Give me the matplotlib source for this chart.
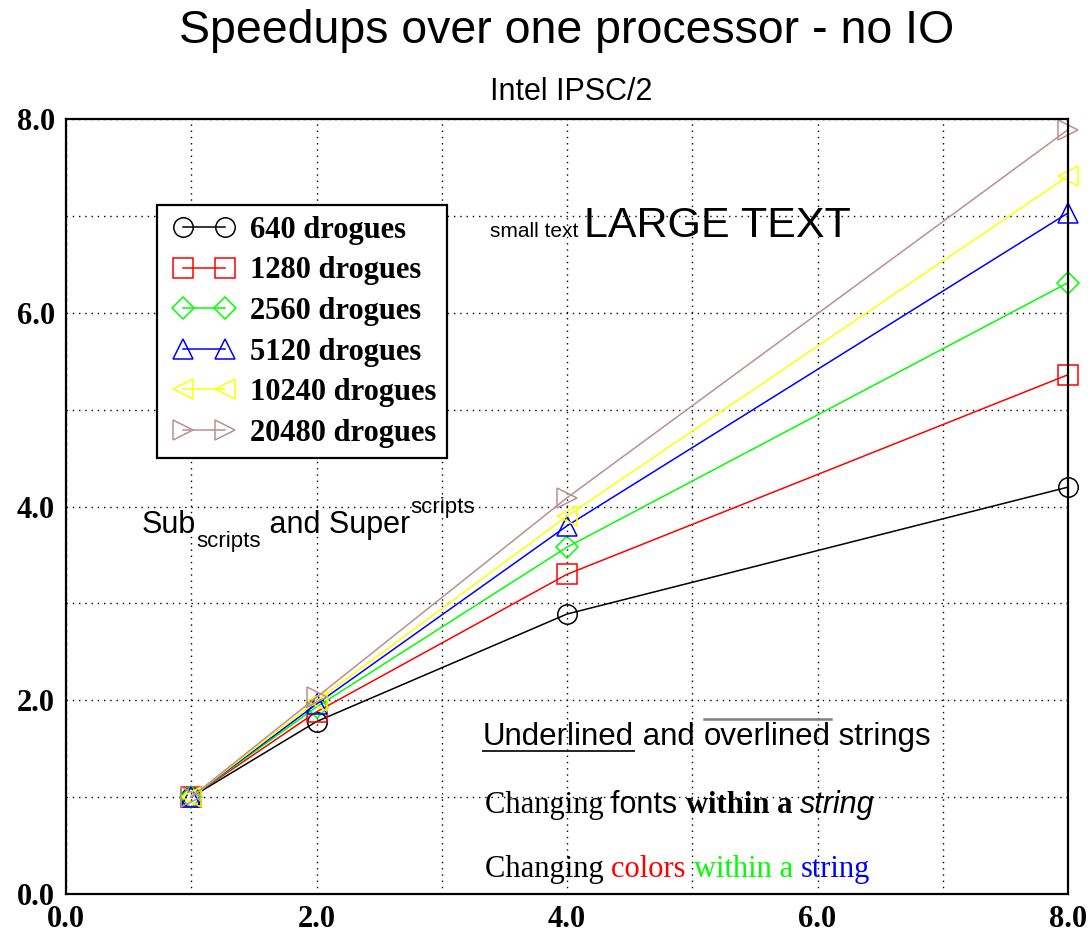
import numpy as np
import matplotlib
matplotlib.use("Agg")
from matplotlib import pyplot as plt
from matplotlib.lines import Line2D
from matplotlib.legend_handler import HandlerLine2D

# processors on the x axis, speedup for each problem size
processors = [1, 2, 4, 8]
speedup_640 = [1.0, 1.78, 2.89, 4.20]
speedup_1280 = [1.0, 1.88, 3.30, 5.36]
speedup_2560 = [1.0, 1.93, 3.58, 6.31]
speedup_5120 = [1.0, 1.96, 3.80, 7.03]
speedup_10240 = [1.0, 1.99, 3.90, 7.41]
speedup_20480 = [1.0, 2.03, 4.09, 7.89]
labels = ["640 drogues", "1280 drogues", "2560 drogues",
          "5120 drogues", "10240 drogues", "20480 drogues"]
tick_values = [0, 2, 4, 6, 8]
tick_labels = ["0.0", "2.0", "4.0", "6.0", "8.0"]

series = [speedup_640, speedup_1280, speedup_2560, speedup_5120, speedup_10240, speedup_20480]
colors = ["black", "#ff0000", "#00ff00", "#0000ff", "#ffff00", "#bc8f8f"]
markers = ["o", "s", "D", "^", "<", ">"]
msizes = [14, 14, 11.5, 14, 14, 14]

SANS = "Liberation Sans"
SERIF = "Liberation Serif"
W, H = 1092, 932

fig = plt.figure(figsize=(W / 100, H / 100), dpi=100)
ax = fig.add_axes([66 / W, 1 - 894 / H, (1068 - 66) / W, (894 - 119) / H])

for ys, c, m, ms, lab in zip(series, colors, markers, msizes, labels):
    ax.plot(processors, ys, color=c, marker=m, markersize=ms, markerfacecolor="none",
            markeredgewidth=1.1, linewidth=1.1, label=lab, zorder=3, clip_on=False)

ax.set_xlim(0, 8)
ax.set_ylim(0, 8)
ax.set_xticks(tick_values)
ax.set_xticklabels(tick_labels)
ax.set_yticks(tick_values)
ax.set_yticklabels(tick_labels)
ax.set_xticks(range(0, 9), minor=True)
ax.set_yticks(range(0, 9), minor=True)
ax.tick_params(which="both", length=0)
ax.tick_params(axis="y", pad=8)
ax.tick_params(axis="x", pad=8)
for lbl in ax.get_xticklabels() + ax.get_yticklabels():
    lbl.set_fontfamily(SERIF)
    lbl.set_fontweight("bold")
    lbl.set_fontsize(22)
ax.grid(which="both", color="black", linestyle=(0, (1, 3.5)), linewidth=1.0)
for sp in ax.spines.values():
    sp.set_linewidth(1.6)
    sp.set_zorder(4)

leg = ax.legend(loc="upper left", bbox_to_anchor=(157 / W, 1 - 205 / H),
                bbox_transform=fig.transFigure, borderaxespad=0,
                prop={"family": SERIF, "weight": "bold", "size": 22},
                numpoints=2, handlelength=2.38, handletextpad=0.31,
                labelspacing=0.38, borderpad=0.35, fancybox=False,
                edgecolor="black", framealpha=1,
                handler_map={Line2D: HandlerLine2D(marker_pad=0.5)})
leg.get_frame().set_linewidth(1.6)
leg.set_zorder(5)

# titles
fig.text(567 / W, 1 - 43 / H, "Speedups over one processor - no IO", family=SANS,
         fontsize=33.5, ha="center", va="baseline")
fig.text(571 / W, 1 - 100 / H, "Intel IPSC/2", family=SANS, fontsize=22,
         ha="center", va="baseline")

renderer = fig.canvas.get_renderer()


def text_width(s, **kw):
    # measure with sentinels so leading/trailing blanks count
    t1 = fig.text(0, 0, "|" + s + "|", **kw)
    t2 = fig.text(0, 0, "||", **kw)
    w = t1.get_window_extent(renderer).width - t2.get_window_extent(renderer).width
    t1.remove()
    t2.remove()
    return w


def rich_text(x, y, pieces):
    # pieces drawn one after another on a common baseline (pixels from top)
    spans = []
    for s, kw in pieces:
        kw = dict(kw)
        dy = kw.pop("dy", 0)
        fig.text(x / W, 1 - (y + dy) / H, s, ha="left", va="baseline", **kw)
        w = text_width(s, **kw)
        spans.append((x, x + w))
        x += w
    return spans


rich_text(490, 237, [("small text ", dict(family=SANS, fontsize=15)),
                     ("LARGE TEXT", dict(family=SANS, fontsize=31))])

rich_text(142, 533, [("Sub", dict(family=SANS, fontsize=22)),
                     ("scripts", dict(family=SANS, fontsize=16, dy=14)),
                     (" and Super", dict(family=SANS, fontsize=22)),
                     ("scripts", dict(family=SANS, fontsize=16, dy=-20))])

spans = rich_text(483, 745, [("Underlined", dict(family=SANS, fontsize=22.5)),
                             (" and ", dict(family=SANS, fontsize=22.5)),
                             ("overlined", dict(family=SANS, fontsize=22.5)),
                             (" strings", dict(family=SANS, fontsize=22.5))])
u0, u1 = spans[0]
o0, o1 = spans[2]
fig.add_artist(Line2D([u0 / W, u1 / W], [1 - 751 / H, 1 - 751 / H], color="#222222",
                      linewidth=1.4, transform=fig.transFigure))
fig.add_artist(Line2D([o0 / W, o1 / W], [1 - 719 / H, 1 - 719 / H], color="#808080",
                      linewidth=1.8, transform=fig.transFigure))

rich_text(485, 813, [("Changing ", dict(family=SERIF, fontsize=22)),
                     ("fonts ", dict(family=SANS, fontsize=22)),
                     ("within a ", dict(family=SERIF, fontsize=22, weight="bold")),
                     ("string", dict(family=SANS, fontsize=22, style="italic"))])

rich_text(485, 877, [("Changing ", dict(family=SERIF, fontsize=22, color="black")),
                     ("colors ", dict(family=SERIF, fontsize=22, color="#ff0000")),
                     ("within a ", dict(family=SERIF, fontsize=22, color="#00ff00")),
                     ("string", dict(family=SERIF, fontsize=22, color="#0000ff"))])

plt.savefig("out.png", dpi=100)
plt.close()
